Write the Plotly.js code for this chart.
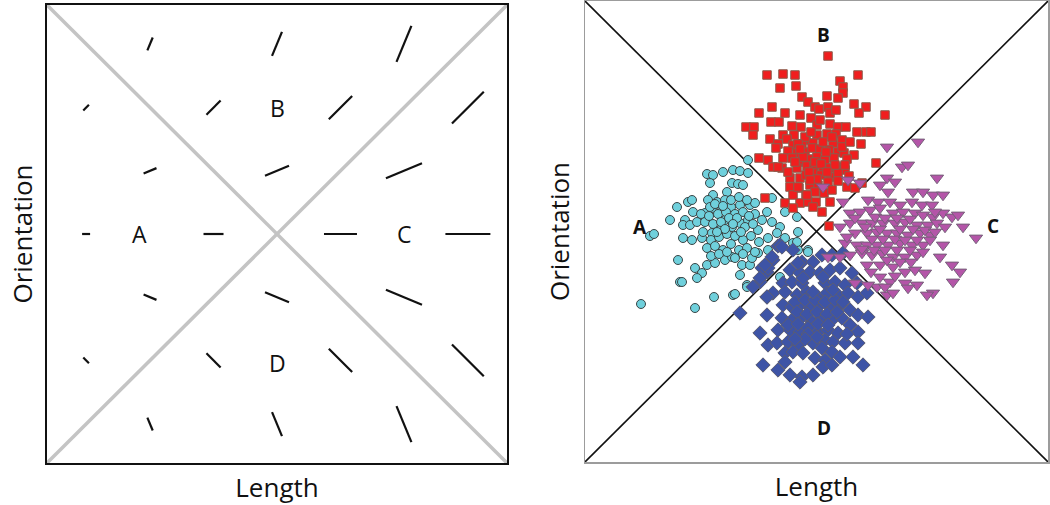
<!DOCTYPE html>
<html>
<head>
<meta charset="utf-8">
<script src="https://cdn.plot.ly/plotly-3.0.1.min.js"></script>
<style>html,body{margin:0;padding:0;background:#fff;}#chart{width:1050px;height:505px;}</style>
</head>
<body>
<div id="chart"></div>
<script>
// ---------- Left panel: glyph grid ----------
const lengthPos = [0.085, 0.224, 0.362, 0.5, 0.638, 0.776, 0.915];      // columns (Length)
const orientPos = [0.915, 0.776, 0.638, 0.5, 0.362, 0.224, 0.085];      // rows, top to bottom (Orientation)
const glyphLen = [0.0174, 0.0304, 0.0435, 0.0565, 0.0717, 0.0848, 0.0978]; // drawn length per column
const glyphAngle = [67.5, 45, 22.5, 0, -22.5, -45, -67.5];               // degrees per row
const leftLabels = ['A', 'B', 'C', 'D'];
const leftLabelX = [0.202, 0.5, 0.778, 0.5];
const leftLabelY = [0.5, 0.775, 0.5, 0.219];

// ---------- Right panel: scatter clusters (x = length, y = orientation) ----------
const aX = [122,128,138,148,155,163,163,147,153,158,142,128,123,132,140,103,107,92,108,85,100,98,105,112,120,127,137,146,155,165,170,187,182,177,187,195,200,212,213,98,107,117,127,135,140,147,155,163,173,183,192,200,223,93,110,117,112,122,130,140,147,157,165,167,173,183,193,208,213,155,162,148,129,95,110,65,56,125,69,97,150,162,177,195,212,223,
  125,133,141,150,158,120,128,136,144,152,160,168,118,126,134,142,150,158,166,174,122,130,138,146,154,162,170,126,134,142,150,158,130,138,146,154,162,170,116,140,148,156,164,132,124];
const aY = [288,287,290,292,291,289,302,279,278,277,270,267,262,260,262,260,262,255,250,242,242,237,237,240,249,254,252,255,257,257,259,264,250,242,240,235,250,245,230,224,222,224,229,232,242,235,239,242,232,224,229,224,212,202,194,189,184,197,199,202,205,197,197,204,209,212,215,219,212,187,177,167,165,180,154,226,158,279,228,180,168,175,185,185,220,210,
  255,248,250,248,250,240,238,240,244,244,235,238,230,222,225,228,226,222,226,220,214,216,212,218,212,214,210,206,208,210,204,208,258,256,262,265,262,248,248,233,238,230,246,230,246];

const dX = [193,188,217,228,237,247,258,182,175,205,215,225,235,245,255,267,198,207,217,240,250,260,272,188,200,212,222,233,242,253,263,273,282,182,155,182,198,207,217,225,235,245,255,265,273,283,197,207,217,227,237,247,257,265,175,193,205,215,223,233,243,253,273,183,192,203,213,228,240,248,260,273,200,208,218,237,247,255,200,230,240,268,178,238,247,278,193,205,217,228,215,195,213,177,183,168,182,197,208,187,180,175,
  210,220,230,240,250,212,222,232,242,252,203,213,223,233,243,228,218,238,248,258,262,220,232,210];
const dY = [216,202,200,200,207,207,209,190,180,192,189,190,189,192,194,189,179,180,179,179,180,177,179,169,170,167,170,165,169,167,169,165,169,165,149,147,157,155,159,154,157,155,157,152,147,145,144,142,145,140,144,142,144,137,129,132,132,130,134,130,132,129,130,117,119,120,117,119,122,120,119,119,109,110,109,114,110,105,100,104,102,105,97,95,97,97,92,87,85,87,80,217,199,194,194,175,165,215,212,205,197,184,
  160,162,162,160,162,150,148,150,148,150,137,138,128,138,137,170,184,185,172,160,128,123,125,123];

const bX = [243,182,198,210,273,195,211,255,258,242,258,217,223,253,269,281,230,243,187,174,200,215,226,234,245,251,274,300,161,169,168,186,194,207,216,232,245,253,261,235,272,281,286,198,209,185,193,202,221,232,242,251,276,191,208,217,228,248,257,244,174,183,203,212,220,227,235,253,259,269,198,207,217,225,232,240,249,262,291,188,197,212,222,229,238,245,252,260,205,215,221,228,236,245,253,264,205,214,225,233,243,253,262,270,277,208,221,230,239,247,200,215,223,231,208,180,244,237,228,245,193,213,222,
  220,238,226,213,241,230,218,250,236,224,242,210,257,265,203,232,247,215,225,260];
const bY = [406,387,388,387,387,374,376,381,375,366,369,365,360,364,358,355,355,355,355,349,349,347,344,353,349,352,349,347,335,335,327,340,340,336,335,337,338,335,335,342,330,330,330,327,327,323,318,323,322,327,328,328,318,314,317,318,319,319,322,312,304,302,311,309,310,314,313,310,309,307,304,304,300,303,305,302,304,303,299,295,294,294,296,296,293,294,295,292,284,284,287,289,287,285,289,286,275,274,277,277,280,281,275,274,279,267,267,270,269,272,259,259,260,260,254,264,236,250,255,260,295,275,267,
  325,320,330,318,310,300,305,297,298,290,290,300,315,320,290,283,325,313,282,297];

const cX = [333,302,317,323,352,302,310,295,275,263,238,328,338,348,358,303,283,293,305,315,327,337,347,258,265,275,285,295,308,318,330,338,348,358,367,373,255,265,277,287,298,310,320,332,343,352,360,378,270,282,292,302,312,323,335,345,391,260,272,282,292,303,315,327,338,358,243,255,265,277,287,297,308,320,332,355,282,295,308,320,330,340,367,375,295,305,320,332,348,302,292,283,342,368,270,308,323,300,
  290,300,312,325,280,295,315,328,340,287,298,310,320,332,345,277,289,300,312,325,338,302,315,326,286,310,350,270,262,350];
const cY = [320,315,295,297,284,284,280,277,279,282,275,270,270,267,267,270,262,260,260,257,260,257,257,260,249,250,252,254,249,250,249,247,245,249,245,247,235,239,239,239,239,239,240,237,237,239,235,235,229,229,230,229,229,227,229,227,224,219,217,217,217,217,219,217,217,217,205,205,207,209,207,209,205,205,207,205,197,197,195,190,192,189,197,190,185,180,179,177,169,167,175,177,167,180,179,169,174,175,
  245,244,244,243,235,233,233,233,232,223,223,223,222,222,222,213,212,212,212,212,210,202,200,200,190,186,250,244,225,230];

const rightLabels = ['A', 'B', 'C', 'D'];
const rightLabelX = [55, 238, 408, 239];
const rightLabelY = [235, 427, 236, 34];

// ---------- Build traces ----------
const traces = [];
const L_ASPECT = 460 / 458; // pixel aspect of left plot area

// left diagonals
traces.push({x: [0, 1], y: [0, 1], xaxis: 'x', yaxis: 'y', mode: 'lines', line: {color: '#c4c4c4', width: 3.5}, hoverinfo: 'skip', showlegend: false});
traces.push({x: [0, 1], y: [1, 0], xaxis: 'x', yaxis: 'y', mode: 'lines', line: {color: '#c4c4c4', width: 3.5}, hoverinfo: 'skip', showlegend: false});

// glyph segments
const gx = [], gy = [];
for (let r = 0; r < orientPos.length; r++) {
  for (let c = 0; c < lengthPos.length; c++) {
    if ((r + c) % 2 === 0) continue;
    const a = glyphAngle[r] * Math.PI / 180;
    const h = glyphLen[c] / 2;
    const dx = h * Math.cos(a);
    const dy = h * Math.sin(a) * L_ASPECT;
    gx.push(lengthPos[c] - dx, lengthPos[c] + dx, null);
    gy.push(orientPos[r] - dy, orientPos[r] + dy, null);
  }
}
traces.push({x: gx, y: gy, xaxis: 'x', yaxis: 'y', mode: 'lines', line: {color: '#111', width: 2.2}, hoverinfo: 'skip', showlegend: false, connectgaps: false});

// right diagonals
traces.push({x: [0, 463], y: [0, 461], xaxis: 'x2', yaxis: 'y2', mode: 'lines', line: {color: '#111', width: 1.6}, hoverinfo: 'skip', showlegend: false});
traces.push({x: [0, 463], y: [461, 0], xaxis: 'x2', yaxis: 'y2', mode: 'lines', line: {color: '#111', width: 1.6}, hoverinfo: 'skip', showlegend: false});

// clusters
traces.push({name: 'A', x: aX, y: aY, xaxis: 'x2', yaxis: 'y2', mode: 'markers', type: 'scatter',
  marker: {symbol: 'circle', size: 9, color: '#6fd0dc', line: {color: '#3a4546', width: 1}}, showlegend: false});
traces.push({name: 'D', x: dX, y: dY, xaxis: 'x2', yaxis: 'y2', mode: 'markers', type: 'scatter',
  marker: {symbol: 'diamond', size: 11, color: '#3e54a6', line: {color: '#5b5d74', width: 1}}, showlegend: false});
traces.push({name: 'B', x: bX, y: bY, xaxis: 'x2', yaxis: 'y2', mode: 'markers', type: 'scatter',
  marker: {symbol: 'square', size: 8.5, color: '#f01e1e', line: {color: '#8a5c4c', width: 1}}, showlegend: false});
traces.push({name: 'C', x: cX, y: cY, xaxis: 'x2', yaxis: 'y2', mode: 'markers', type: 'scatter',
  marker: {symbol: 'triangle-down', size: 11.5, color: '#b455a8', line: {color: '#76607a', width: 1}}, showlegend: false});

// ---------- Annotations ----------
const annotations = [];
for (let i = 0; i < leftLabels.length; i++) {
  annotations.push({text: leftLabels[i], x: leftLabelX[i], y: leftLabelY[i], xref: 'x', yref: 'y', showarrow: false,
    font: {family: 'Open Sans, sans-serif', size: 23, color: '#111'}});
}
for (let i = 0; i < rightLabels.length; i++) {
  annotations.push({text: '<b>' + rightLabels[i] + '</b>', x: rightLabelX[i], y: rightLabelY[i], xref: 'x2', yref: 'y2', showarrow: false,
    font: {family: 'Open Sans, sans-serif', size: 19, color: '#111'}});
}

const titleFont = {family: 'Open Sans, sans-serif', size: 26, color: '#111'};
const axBase = {showgrid: false, zeroline: false, showticklabels: false, ticks: '', showline: true, mirror: true, fixedrange: true};

const layout = {
  width: 1050, height: 505,
  margin: {l: 0, r: 0, t: 0, b: 0},
  paper_bgcolor: '#fff', plot_bgcolor: '#fff',
  showlegend: false,
  xaxis: Object.assign({}, axBase, {domain: [47/1050, 507/1050], range: [0, 1], linecolor: '#111', linewidth: 2,
    title: {text: 'Length', font: titleFont, standoff: 15}, anchor: 'y'}),
  yaxis: Object.assign({}, axBase, {domain: [1 - 463/505, 1 - 5/505], range: [0, 1], linecolor: '#111', linewidth: 2,
    title: {text: 'Orientation', font: titleFont, standoff: 5}, anchor: 'x'}),
  xaxis2: Object.assign({}, axBase, {domain: [585/1050, 1048/1050], range: [0, 463], linecolor: '#9c9c9c', linewidth: 1.5,
    title: {text: 'Length', font: titleFont, standoff: 15}, anchor: 'y2'}),
  yaxis2: Object.assign({}, axBase, {domain: [1 - 462/505, 1 - 1/505], range: [0, 461], linecolor: '#9c9c9c', linewidth: 1.5,
    title: {text: 'Orientation', font: titleFont, standoff: 6}, anchor: 'x2'}),
  annotations: annotations
};

Plotly.newPlot('chart', traces, layout, {displayModeBar: false, staticPlot: true});
</script>
</body>
</html>
